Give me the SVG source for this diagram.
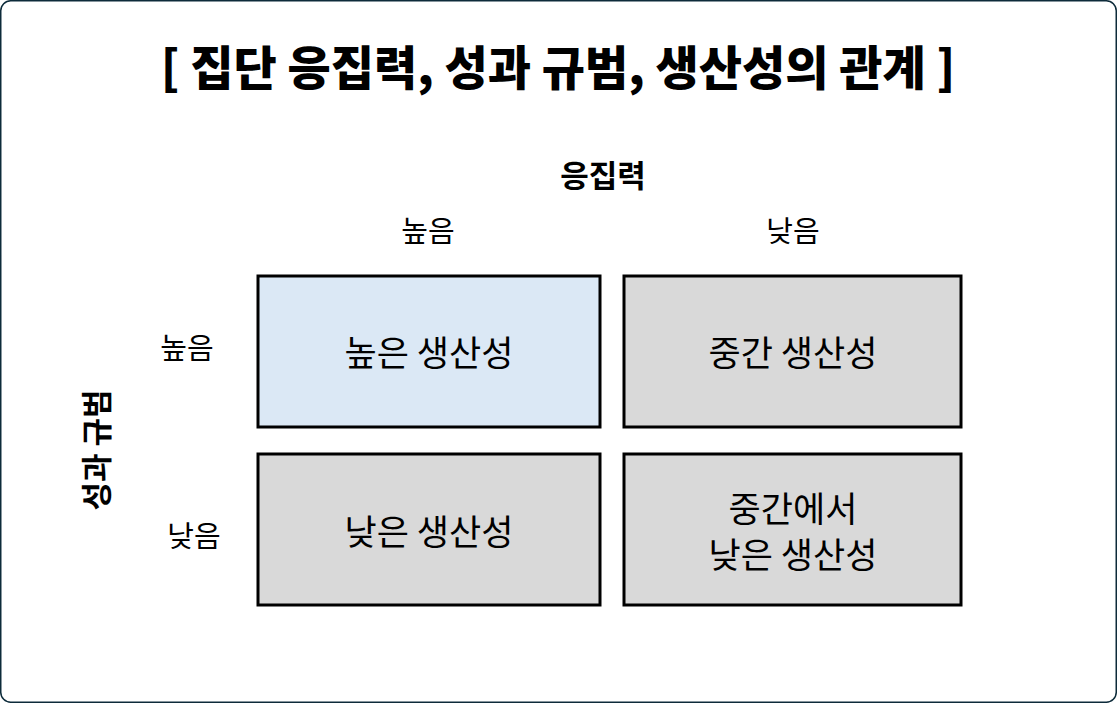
<svg xmlns="http://www.w3.org/2000/svg" width="1117" height="703" viewBox="0 0 1117 703">
<style>
text{font-family:"Noto Sans CJK KR","Noto Sans",sans-serif;fill:#000;text-anchor:middle;dominant-baseline:central}
.title{font-size:47px;font-weight:900}
.axis{font-size:31px;font-weight:700}
.lab{font-size:29px}
.box{stroke:#000;stroke-width:3}
.bt{font-size:35px}
</style>
<rect x="0.75" y="0.75" width="1115.5" height="701.5" rx="10" fill="#fff" stroke="#0d2b3a" stroke-width="1.5"/>
<text class="title" x="558" y="64">[ 집단 응집력, 성과 규범, 생산성의 관계 ]</text>
<text class="axis" x="603" y="173">응집력</text>
<text class="lab" x="428" y="229">높음</text>
<text class="lab" x="793" y="229">낮음</text>
<text class="lab" x="187" y="346">높음</text>
<text class="lab" x="194" y="534">낮음</text>
<text class="axis" transform="translate(94 450) rotate(-90)" x="0" y="0">성과 규범</text>
<g id="n1"><rect class="box" x="258" y="276" width="342" height="151" fill="#dbe8f5"/><text class="bt" x="429" y="350">높은 생산성</text></g>
<g id="n2"><rect class="box" x="624" y="276" width="337" height="151" fill="#d9d9d9"/><text class="bt" x="793" y="350">중간 생산성</text></g>
<g id="n3"><rect class="box" x="258" y="454" width="342" height="151" fill="#d9d9d9"/><text class="bt" x="429" y="529">낮은 생산성</text></g>
<g id="n4"><rect class="box" x="624" y="454" width="337" height="151" fill="#d9d9d9"/><text class="bt" x="793" y="506">중간에서</text><text class="bt" x="793" y="552">낮은 생산성</text></g>
<g id="connectors"></g>
</svg>
